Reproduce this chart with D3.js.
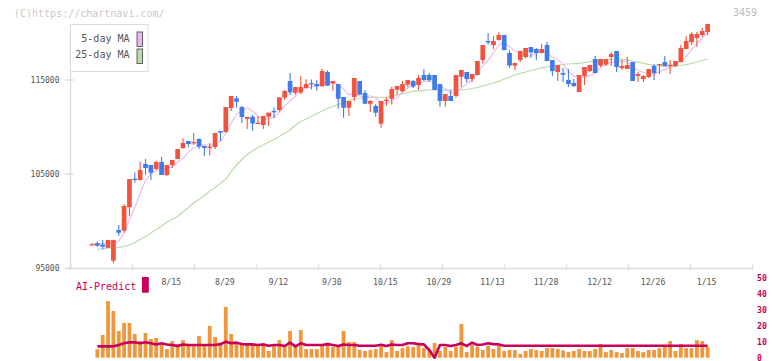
<!DOCTYPE html>
<html><head><meta charset="utf-8">
<script src="https://cdn.jsdelivr.net/npm/d3@7"></script>
<style>
html,body{margin:0;padding:0;background:#fff;}
svg{display:block;}
text{font-family:"DejaVu Sans Mono",monospace;}
</style></head><body>
<svg id="chart" width="772" height="361"></svg>
<script>
const dates = ["7/24","7/25","7/28","7/29","7/30","7/31","8/1","8/4","8/5","8/6","8/7","8/8","8/12","8/13","8/14","8/15","8/18","8/19","8/20","8/21","8/22","8/25","8/26","8/27","8/28","8/29","9/1","9/2","9/3","9/4","9/5","9/8","9/9","9/10","9/11","9/12","9/16","9/17","9/18","9/19","9/22","9/24","9/25","9/26","9/29","9/30","10/1","10/2","10/3","10/6","10/7","10/8","10/9","10/10","10/14","10/15","10/16","10/17","10/20","10/21","10/22","10/23","10/24","10/27","10/28","10/29","10/30","10/31","11/4","11/5","11/6","11/7","11/10","11/11","11/12","11/13","11/14","11/17","11/18","11/19","11/20","11/21","11/25","11/26","11/27","11/28","12/1","12/2","12/3","12/4","12/5","12/8","12/9","12/10","12/11","12/12","12/15","12/16","12/17","12/18","12/19","12/22","12/23","12/24","12/25","12/26","12/29","12/30","1/5","1/6","1/7","1/8","1/9","1/13","1/14","1/15"];

const open = [97550,97660,97510,97170,95810,99070,98990,101480,104520,104380,
106080,105970,105550,106290,104910,105970,106610,107780,108520,108310,
108730,107990,107850,107880,109580,109480,112020,113050,112130,110860,
111100,110380,110220,111100,111710,111810,113120,114890,113650,113670,
114150,114660,114570,114330,115850,114630,114570,113190,112060,113190,
114890,113620,112480,112240,110360,112840,113010,113970,113800,114500,
114890,114470,115530,115530,115530,114570,112770,113300,113300,115350,
115850,115100,115530,117120,119140,118710,119250,119780,117870,116520,
117120,117440,118500,118290,117870,118710,117120,115850,115740,115000,
114680,113720,115420,115950,117230,116540,116640,117440,118080,116270,
116170,116910,115420,115100,115320,116480,116590,116910,116560,116480,
116910,118290,119030,119460,119780,120100];
const high = [97660,97830,98010,98010,98010,99600,101830,104480,105200,106290,
106610,105970,106430,106820,105970,106500,107670,108810,108520,109370,
108810,107990,108310,109370,109580,112130,113300,113300,112240,111070,
111280,111180,111180,111530,112100,113160,113940,115740,114250,115420,
115070,115050,115000,116170,116030,114890,114570,113190,112770,115210,
114890,113940,112870,112450,112770,113160,114290,114360,114890,115000,
115000,115530,116170,115740,115530,114570,113510,113940,115530,116060,
115850,115640,117020,118710,119990,119670,120060,119780,118180,116860,
118080,118400,118500,118400,118820,119030,117120,116590,116270,116170,
115100,115530,116380,116590,117550,117230,117230,117970,118080,117120,
117440,116910,115850,115530,116170,116700,116700,117550,117120,117020,
118710,119670,120100,120100,120520,120950];
const low = [97440,97300,97020,97170,95530,98460,98780,100560,104090,104300,
104940,104380,105440,104910,104800,105650,106610,107670,107850,108100,
107670,106930,107000,107670,108520,109400,111710,112060,110430,109790,
109610,110360,109790,110110,110960,111630,112870,113400,113460,113480,
114120,114010,113860,114290,114390,113860,111950,110990,111180,112770,
113440,112480,111600,111100,109930,112240,112370,113440,113720,114250,
114150,113940,114890,114860,113940,112160,112160,112770,113140,114250,
114730,114790,115480,116750,118770,118260,119190,118150,116300,116060,
116910,117280,117360,117120,117810,117020,115420,114890,114790,114250,
114250,113720,114470,115850,115740,116380,116480,116480,115850,116060,
116170,114890,114790,114790,115210,115000,115640,116480,115640,116380,
116860,118290,118710,118500,119570,119780];
const close = [97560,97400,97300,98010,98010,98780,101620,104480,104380,105440,
105650,105150,106290,104910,105970,106500,107670,108310,108200,108410,
107920,107780,107920,109370,109400,112130,113300,112690,111070,111070,
110380,110460,111180,111530,111570,113160,113830,113690,114250,114250,
114570,114540,114330,115950,114390,114890,113010,112060,112770,115210,
113440,112480,112770,111530,112770,112910,114040,114360,114570,115000,
114310,115210,115000,114970,113940,112770,113510,112770,115530,116060,
115100,115640,117020,118710,118980,119140,119780,118180,116540,116800,
118080,118400,117940,117870,118290,117020,115950,116590,115560,114570,
114360,115530,116380,116590,115740,117230,117230,117760,116380,116480,
116590,114890,115640,115420,116170,115740,116700,116480,116620,117020,
118400,119140,119880,119880,120200,120950];

const ma5 = [97580,97600,97620,97630,97650,97900,98740,100180,101450,102940,
104310,105020,105380,105490,105600,105770,106270,106670,107330,107820,
108100,108120,108040,108280,108470,109320,110420,111380,111720,112050,
111700,111130,110830,110920,111020,111580,112250,112760,113300,113840,
114120,114260,114390,114730,114760,114820,114520,114060,113420,113590,
113300,113190,113330,113080,112600,112490,112800,113120,113730,114180,
114460,114690,114820,114900,114680,114380,114040,113590,113700,114130,
114590,115020,115870,116510,117090,117900,118730,118960,118520,118090,
117880,117600,117550,117820,118110,117900,117410,117140,116680,115940,
115410,115320,115280,115490,115720,116290,116630,116910,116870,117020,
116890,116420,116000,115800,115740,115570,115930,116100,116340,116510,
117040,117530,118210,118860,119500,120010];
const ma25 = [null,97020,97070,97140,97180,97230,97320,97480,97740,98060,
98380,98750,99120,99490,99920,100180,100500,100980,101460,101940,
102310,102730,103210,103580,104030,104480,105230,105970,106560,107090,
107460,107830,108100,108410,108680,109000,109340,109690,110220,110590,
110860,111120,111440,111710,111970,112180,112400,112610,112820,112980,
113060,113110,113140,113160,113170,113190,113270,113410,113540,113670,
113800,113850,113900,113940,113940,113940,113940,113940,113940,113960,
113990,114100,114200,114360,114520,114680,114860,115100,115320,115530,
115710,115850,116010,116170,116290,116410,116510,116590,116670,116700,
116730,116770,116860,116930,117020,117090,117140,117200,117230,117200,
117120,117020,116890,116770,116660,116560,116490,116450,116450,116490,
116540,116640,116770,116910,117070,117260];

const volume = [null,5.4,14.2,35.4,29.2,16.7,21.7,21.7,14.8,10.4,
15.4,11.7,12.3,9.2,5.4,10.4,8.5,11,7.9,7.9,
13.5,7.9,19.8,12.9,9.2,31.7,14.8,9.8,9.2,9.2,
9.2,8.5,9.2,4.2,7.9,11,7.9,16.7,7.9,17.3,
5.4,5.4,5.4,7.9,9.2,6.7,6.7,16.7,9.8,9.8,
4.8,4.2,4.8,5.4,7.9,3.5,11,4.2,6,7.1,
6.7,7.7,6,5.4,9.2,4.2,6.7,4.2,6.7,21,
3.5,7.9,6.7,4.8,7.5,5.4,7.3,4.2,4.8,4.8,
2.3,4.2,5.4,4.8,4.2,6,6,5.4,4.6,3.5,
4.2,5.4,4.2,4.2,5.4,8.5,3.5,4.8,3.5,2.9,
6,6,4.2,3.5,4.8,4.8,6,6.7,10.4,4.2,
8.5,6,6,11,10.4,6.7];
const aiPredict = [null,7.1,7.1,7.1,7.1,7.9,9,9.6,9.6,9,
9.6,9,8.3,9,8.3,7.9,7.3,8.3,7.9,7.9,
7.9,7.9,7.9,7.9,8.5,10,9,9.4,8.5,8.3,
8.3,7.9,8.3,7.5,7.9,7.9,7.3,9.4,7.1,9,
7.9,7.9,7.9,7.9,8.5,7.9,7.3,8.3,7.9,7.9,
7.5,7.5,7.5,7.5,8.1,7.3,8.3,7.9,7.9,9,
9,8.5,8.3,4.8,0,7.9,7.9,7.3,7.9,9,
7.3,9.4,7.9,8.3,9,8.5,8.3,7.5,7.5,7.5,
7.5,7.5,7.5,7.5,7.5,7.5,7.5,7.5,7.5,7.5,
7.5,7.5,7.5,7.5,7.5,7.5,7.5,7.5,7.5,7.5,
7.5,7.5,7.5,7.5,7.5,7.5,7.5,7.5,7.5,7.5,
7.5,7.5,7.5,7.5,7.5,7.5];

const priceTicks = [95000, 105000, 115000];
const dateLabels = ["8/15","8/29","9/12","9/30","10/15","10/29","11/13","11/28","12/12","12/26","1/15"];
const aiTicks = [0,10,20,30,40,50];
const legendItems = [{label:"5-day MA", color:"#ebb6ef"}, {label:"25-day MA", color:"#b9dcaa"}];

const svg = d3.select("#chart");
const x = d3.scaleBand().domain(dates).range([89.3, 710.3]).paddingInner(0).paddingOuter(0);
const cx = d => x(d) + x.bandwidth()/2;
const y = d3.scaleLinear().domain([95000,115000]).range([268.3,80]);
const yv = d3.scaleLinear().domain([0,50]).range([357.7,277.7]);
const gridX = d3.scaleLinear().domain([0,11]).range([70.5,752.5]);

const RED = "#f2533f", BLUE = "#3f7be9", CRIMSON = "#c8005a", AXIS = "#dddddd";

// header texts
svg.append("text").attr("x",14).attr("y",16.5).attr("font-size",10).attr("fill","#c8c8c8").text("(C)https://chartnavi.com/");
svg.append("text").attr("x",757).attr("y",16).attr("text-anchor","end").attr("font-size",10).attr("fill","#bdbdbd").text("3459");

// axes
svg.append("line").attr("x1",70.5).attr("x2",70.5).attr("y1",24).attr("y2",268.5).attr("stroke",AXIS).attr("stroke-width",1.5);
svg.append("line").attr("x1",70).attr("x2",752.5).attr("y1",268.5).attr("y2",268.5).attr("stroke",AXIS).attr("stroke-width",1.5);
d3.range(12).forEach(i => {
  svg.append("line").attr("x1",gridX(i)).attr("x2",gridX(i)).attr("y1",264.5).attr("y2",270).attr("stroke",AXIS).attr("stroke-width",1.5);
});
priceTicks.forEach(v => {
  svg.append("line").attr("x1",65).attr("x2",73.5).attr("y1",y(v)).attr("y2",y(v)).attr("stroke",AXIS).attr("stroke-width",1.5);
  svg.append("text").attr("x",59.5).attr("y",y(v)+2.8).attr("text-anchor","end").attr("font-size",8).attr("fill","#555").text(v);
});
dateLabels.forEach(d => {
  svg.append("text").attr("x",cx(d)-1).attr("y",285).attr("text-anchor","middle").attr("font-size",8.2).attr("fill","#555").text(d);
});

// legend
svg.append("rect").attr("x",70.5).attr("y",24.5).attr("width",77.5).attr("height",47).attr("fill","#fff").attr("stroke",AXIS).attr("stroke-width",1);
legendItems.forEach((it,i) => {
  svg.append("text").attr("x",129.5).attr("y",41.5+i*16.8).attr("text-anchor","end").attr("font-size",10).attr("fill","#555").text(it.label);
  svg.append("rect").attr("x",137).attr("y",32+i*17).attr("width",5.5).attr("height",14.5).attr("fill",it.color).attr("stroke","#555").attr("stroke-width",0.9);
});

// moving averages
const lineGen = arr => d3.line().defined(v => v != null).x((v,i) => cx(dates[i])).y(v => y(v))(arr);
svg.append("path").attr("d",lineGen(ma25)).attr("fill","none").attr("stroke","#b9dcaa").attr("stroke-width",1.2);
svg.append("path").attr("d",lineGen(ma5)).attr("fill","none").attr("stroke","#ebb6ef").attr("stroke-width",1.1);

// candles
const bw = 4.7;
dates.forEach((d,i) => {
  const up = close[i] >= open[i];
  const col = up ? RED : BLUE;
  const xc = cx(d);
  svg.append("line").attr("x1",xc).attr("x2",xc).attr("y1",y(high[i])).attr("y2",y(low[i])).attr("stroke",col).attr("stroke-width",1.1);
  const top = y(Math.max(open[i],close[i])), bot = y(Math.min(open[i],close[i]));
  svg.append("rect").attr("x",xc-bw/2).attr("y",top).attr("width",bw).attr("height",Math.max(bot-top,1.3)).attr("fill",col);
});

// AI-Predict panel
svg.append("text").attr("x",76).attr("y",289.5).attr("font-size",10).attr("fill",CRIMSON).text("AI-Predict");
svg.append("rect").attr("x",142).attr("y",277).attr("width",6.8).attr("height",15.7).attr("fill",CRIMSON);
aiTicks.forEach(v => {
  svg.append("text").attr("x",757).attr("y",yv(v)+2.8).attr("font-size",8.2).attr("font-weight","bold").attr("fill",CRIMSON).text(v);
});
dates.forEach((d,i) => {
  if (volume[i] == null) return;
  svg.append("rect").attr("x",cx(d)-1.9).attr("y",yv(volume[i])).attr("width",3.8).attr("height",yv(0)-yv(volume[i])).attr("fill","#f0973d");
});
const aiLine = d3.line().defined(v => v != null).x((v,i) => cx(dates[i])).y(v => yv(v));
svg.append("path").attr("d",aiLine(aiPredict)).attr("fill","none").attr("stroke",CRIMSON).attr("stroke-width",2.6).attr("stroke-linejoin","round");
</script>
</body></html>
